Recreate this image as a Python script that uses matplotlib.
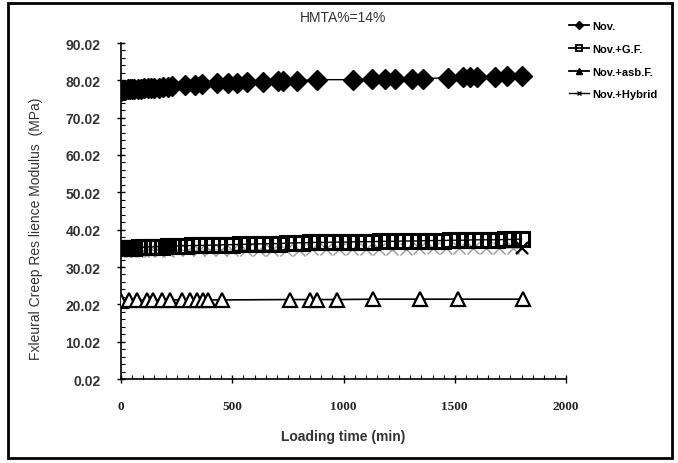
import matplotlib.pyplot as plt
from matplotlib.lines import Line2D
from matplotlib.patches import Rectangle
from matplotlib.ticker import MultipleLocator, FixedLocator

# Nov. (filled diamonds)
nov_time = [0, 5, 10, 15, 20, 30, 40, 50, 60, 75, 90, 105, 120, 135, 150, 170, 190, 210, 230,
            288, 333, 364, 431, 481, 521, 566, 638, 706, 728, 791, 881,
            1043, 1128, 1187, 1231, 1308, 1357, 1470, 1537, 1569, 1600, 1681, 1735, 1802]
nov_val = [77.2, 77.3, 77.4, 77.5, 77.5, 77.6, 77.6, 77.7, 77.7, 77.8, 77.8, 77.9, 77.9, 78.0, 78.0, 78.1, 78.2, 78.3, 78.4,
           78.8, 78.9, 79.0, 79.3, 79.4, 79.4, 79.5, 79.7, 79.8, 79.9, 79.9, 80.2,
           80.2, 80.3, 80.3, 80.4, 80.4, 80.5, 80.7, 80.8, 80.9, 80.9, 81.0, 81.1, 81.3]

# Nov.+G.F. (open squares)
gf_time = [0, 15, 30, 45, 60, 80, 100, 120, 140, 160, 185, 210, 235, 260, 290, 320, 350, 380, 410, 440,
           470, 500, 535, 570, 605, 640, 675, 710, 745, 780, 815, 850, 885, 920, 955, 990, 1025, 1060,
           1095, 1130, 1165, 1200, 1235, 1270, 1305, 1340, 1375, 1410, 1445, 1480, 1515, 1550, 1585,
           1620, 1655, 1690, 1725, 1760, 1800]
gf_val = [35.0, 35.1, 35.1, 35.2, 35.2, 35.3, 35.3, 35.4, 35.4, 35.5, 35.5, 35.6, 35.6, 35.7, 35.7, 35.8, 35.8, 35.8, 35.9, 35.9,
          36.0, 36.0, 36.1, 36.1, 36.2, 36.2, 36.3, 36.3, 36.4, 36.5, 36.5, 36.6, 36.6, 36.6, 36.7, 36.7, 36.7, 36.8,
          36.8, 36.8, 36.9, 36.9, 36.9, 37.0, 37.0, 37.0, 37.1, 37.1, 37.1, 37.2, 37.2, 37.2, 37.3,
          37.3, 37.3, 37.3, 37.4, 37.4, 37.5]

# Nov.+asb.F. (open triangles)
asb_time = [0, 36, 72, 117, 144, 184, 220, 274, 310, 342, 369, 391, 454,
            760, 849, 881, 970, 1133, 1344, 1515, 1807]
asb_val = [21.0, 21.1, 21.1, 21.1, 21.2, 21.2, 21.2, 21.2, 21.2, 21.2, 21.2, 21.2, 21.2,
           21.3, 21.3, 21.3, 21.3, 21.4, 21.4, 21.4, 21.4]

# Nov.+Hybrid (crosses)
hy_time = [0, 20, 40, 70, 100, 130, 170, 210, 250, 300, 350, 400, 450, 500, 560, 620, 680, 740,
           800, 860, 920, 980, 1040, 1100, 1160, 1220, 1280, 1340, 1400, 1460, 1520, 1580, 1640,
           1700, 1760, 1800]
hy_val = [34.2, 34.2, 34.3, 34.3, 34.3, 34.4, 34.4, 34.4, 34.5, 34.5, 34.5, 34.6, 34.6, 34.6, 34.6, 34.7, 34.7, 34.7,
          34.7, 34.8, 34.8, 34.8, 34.8, 34.9, 34.9, 34.9, 34.9, 35.0, 35.0, 35.0, 35.0, 35.1, 35.1,
          35.1, 35.1, 35.0]

y_ticks = [0.02, 10.02, 20.02, 30.02, 40.02, 50.02, 60.02, 70.02, 80.02, 90.02]
x_ticks = [0, 500, 1000, 1500, 2000]

fig = plt.figure(figsize=(6.78, 4.64), dpi=100)
fig.patches.append(Rectangle((8 / 678, 1 - 459 / 464), 664 / 678, 455 / 464,
                             transform=fig.transFigure, fill=False,
                             edgecolor='black', linewidth=2))

ax = fig.add_axes([121 / 678, 1 - 380 / 464, 445 / 678, 336 / 464])

ax.plot(hy_time, hy_val, color='#9a9a9a', linewidth=0.8, marker='x',
        markersize=8, markeredgewidth=1.0, zorder=2)
ax.plot(gf_time, gf_val, color='black', linewidth=1.0, marker='s',
        markersize=9.5, markerfacecolor='none', markeredgecolor='black',
        markeredgewidth=2.2, zorder=3)
# last hybrid cross sticks out past the squares
ax.plot([hy_time[-1]], [hy_val[-1]], color='black', marker='x', markersize=9,
        markeredgewidth=1.6, zorder=4)
ax.plot(asb_time, asb_val, color='black', linewidth=1.2, marker='^',
        markersize=10, markerfacecolor='white', markeredgecolor='black',
        markeredgewidth=1.6, zorder=3)
ax.plot(nov_time, nov_val, color='black', linewidth=1.0, marker='D',
        markersize=10.5, markerfacecolor='black', markeredgecolor='black', zorder=4)

ax.set_xlim(0, 2000)
ax.set_ylim(0.02, 90.02)
ax.spines['top'].set_visible(False)
ax.spines['right'].set_visible(False)
ax.spines['left'].set_linewidth(1.2)
ax.spines['bottom'].set_linewidth(1.2)

ax.xaxis.set_major_locator(FixedLocator(x_ticks))
ax.xaxis.set_minor_locator(MultipleLocator(50))
ax.yaxis.set_major_locator(FixedLocator(y_ticks))
ax.yaxis.set_minor_locator(FixedLocator([0.02 + 2 * i for i in range(46)]))
ax.set_yticklabels([f'{v:.2f}' for v in y_ticks], family='Liberation Sans',
                   fontweight='bold', fontsize=10, color='#333333')
ax.set_xticklabels([str(v) for v in x_ticks], family='Liberation Serif',
                   fontweight='bold', fontsize=9.5, color='#222222')
ax.tick_params(which='major', direction='inout', length=6, width=1.0)
ax.tick_params(which='minor', direction='in', length=3, width=0.8)
ax.tick_params(axis='x', pad=12)
ax.tick_params(axis='y', pad=12)

ax.set_xlabel('Loading time (min)', family='Liberation Sans', fontsize=10,
              fontweight='bold', color='#333333', labelpad=12)
ax.set_ylabel('Fxleural Creep Res lience Modulus  (MPa)', family='Liberation Sans',
              fontsize=10, color='#333333')
ax.yaxis.set_label_coords(-0.175, 0.45)
ax.set_title('HMTA%=14%', family='Liberation Sans', fontsize=10, color='#333333', pad=16)

handles = [
    Line2D([], [], color='black', linewidth=1.3, marker='D', markersize=4),
    Line2D([], [], color='black', linewidth=1.3, marker='s', markersize=4.5,
           markerfacecolor='none', markeredgewidth=1.3),
    Line2D([], [], color='black', linewidth=1.3, marker='^', markersize=4.5),
    Line2D([], [], color='black', linewidth=1.0, marker='x', markersize=3),
]
labels = ['Nov.', 'Nov.+G.F.', 'Nov.+asb.F.', 'Nov.+Hybrid']
fig.legend(handles, labels, loc='upper left', bbox_to_anchor=(559 / 678, 1 - 12 / 464),
           frameon=False, handlelength=1.8, handletextpad=0.3, labelspacing=1.15,
           prop={'family': 'Liberation Sans', 'size': 8, 'weight': 'bold'})

fig.savefig('out.png', dpi=100)
